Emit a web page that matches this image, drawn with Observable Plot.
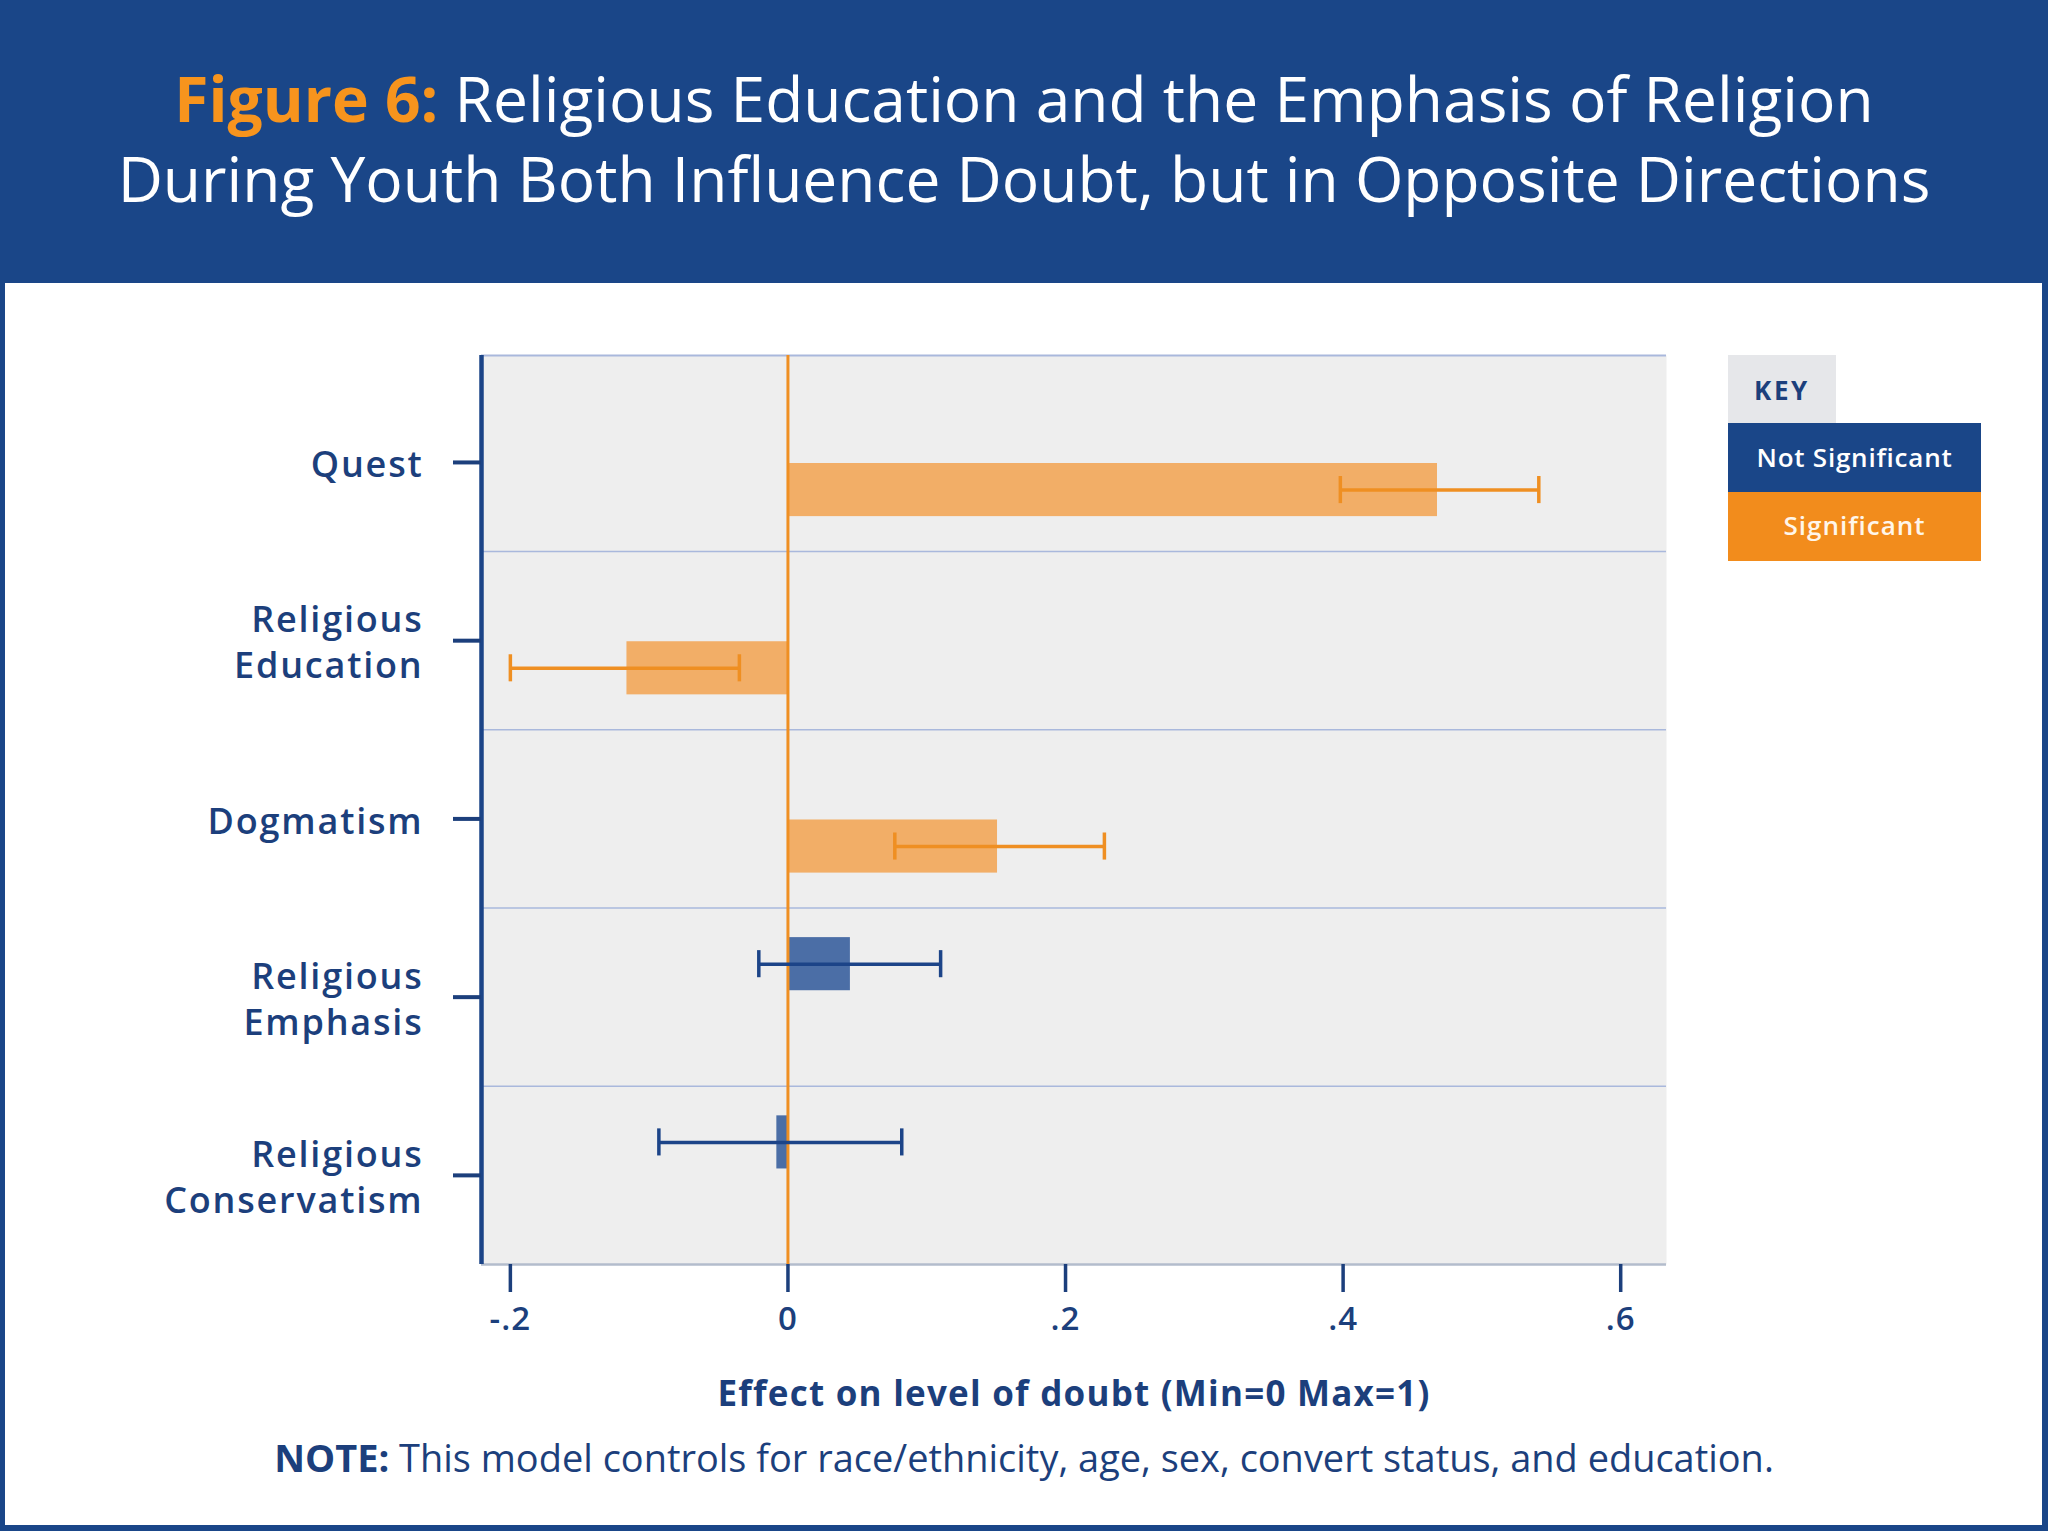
<!DOCTYPE html>
<html>
<head>
<meta charset="utf-8">
<script src="https://cdn.jsdelivr.net/npm/d3@7"></script>
<script src="https://cdn.jsdelivr.net/npm/@observablehq/plot@0.6"></script>
<style>
  html, body { margin: 0; padding: 0; background: #ffffff; }
  #page { position: relative; width: 2048px; height: 1531px; overflow: hidden; background: #ffffff; font-family: "Open Sans", sans-serif; }
  #banner { position: absolute; left: 0; top: 0; width: 2048px; height: 283px; background: #1a4688; }
  #frame { position: absolute; left: 0; top: 0; width: 2048px; height: 1531px; box-sizing: border-box; border: 6px solid #1a4688; border-left-width: 5px; pointer-events: none; }
  #plot { position: absolute; left: 0; top: 283px; }
  #overlay { position: absolute; left: 0; top: 0; pointer-events: none; }
  #plot svg g[aria-label="y-axis tick label"] text { font-weight: 600; letter-spacing: 1.8px; }
  #plot svg g[aria-label="x-axis tick label"] text { font-weight: 600; letter-spacing: 1px; }
</style>
</head>
<body>
<div id="page">
  <div id="banner"></div>
  <div id="plot"></div>
  <div id="frame"></div>
</div>
<script>
// ---------------- data ----------------
const categories = ["Quest", "Religious\nEducation", "Dogmatism", "Religious\nEmphasis", "Religious\nConservatism"];
const coef = [0.468, -0.116, 0.151, 0.045, -0.008];
const ciLow = [0.398, -0.200, 0.077, -0.021, -0.093];
const ciHigh = [0.541, -0.035, 0.228, 0.110, 0.082];
const significant = [true, true, true, false, false];
const xTicks = [-0.2, 0, 0.2, 0.4, 0.6];
const xTickLabels = ["-.2", "0", ".2", ".4", ".6"];
const xTitle = "Effect on level of doubt (Min=0 Max=1)";
const titleLead = "Figure 6:";
const titleLine1 = " Religious Education and the Emphasis of Religion";
const titleLine2 = "During Youth Both Influence Doubt, but in Opposite Directions";
const noteLead = "NOTE:";
const noteText = " This model controls for race/ethnicity, age, sex, convert status, and education.";
const keyTitle = "KEY";
const keyLabels = ["Not Significant", "Significant"];

// ---------------- layout / style ----------------
const NAVY = "#1c3f7c";
const ORANGE_BAR = "#f2ae67";
const ORANGE_LINE = "#ef8f22";
const BLUE_BAR = "#4b6ea6";
const BLUE_LINE = "#1c4488";
const barShift = [0.155, 0.155, 0.155, -0.185, -0.185];
const halfBar = 0.149;
const capHalf = 0.076;

const rows = categories.map((label, i) => ({
  pos: i + 1, label, coef: coef[i], lo: ciLow[i], hi: ciHigh[i], sig: significant[i],
  mid: i + 1 + barShift[i]
}));
const sigRows = rows.filter(d => d.sig);
const nsRows = rows.filter(d => !d.sig);

const xDomain = [-0.2208, 0.633];
const yDomain = [5.5, 0.4];

const chart = Plot.plot({
  width: 1700,
  height: 1160,
  marginLeft: 481,
  marginRight: 34,
  marginTop: 72,
  marginBottom: 179,
  style: { fontFamily: "'Open Sans', sans-serif", color: NAVY, background: "transparent", overflow: "visible" },
  x: { domain: xDomain },
  y: { domain: yDomain },
  marks: [
    Plot.frame({ fill: "#eeeeee", stroke: "none" }),
    Plot.ruleY(d3.range(1.5, 5, 1), { stroke: "#a9b8dc", strokeWidth: 1.6 }),
    Plot.ruleY([yDomain[1]], { stroke: "#a9b8dc", strokeWidth: 2 }),
    Plot.ruleY([yDomain[0]], { stroke: "#b3bccc", strokeWidth: 2.5 }),
    Plot.rect(sigRows, { x1: d => 0, x2: "coef", y1: d => d.mid - halfBar, y2: d => d.mid + halfBar, fill: ORANGE_BAR }),
    Plot.rect(nsRows, { x1: d => 0, x2: "coef", y1: d => d.mid - halfBar, y2: d => d.mid + halfBar, fill: BLUE_BAR }),
    Plot.ruleX([0], { stroke: ORANGE_LINE, strokeWidth: 3 }),
    // confidence intervals
    Plot.ruleY(sigRows, { y: "mid", x1: "lo", x2: "hi", stroke: ORANGE_LINE, strokeWidth: 3.5 }),
    Plot.ruleX(sigRows, { x: "lo", y1: d => d.mid - capHalf, y2: d => d.mid + capHalf, stroke: ORANGE_LINE, strokeWidth: 3.5 }),
    Plot.ruleX(sigRows, { x: "hi", y1: d => d.mid - capHalf, y2: d => d.mid + capHalf, stroke: ORANGE_LINE, strokeWidth: 3.5 }),
    Plot.ruleY(nsRows, { y: "mid", x1: "lo", x2: "hi", stroke: BLUE_LINE, strokeWidth: 3.5 }),
    Plot.ruleX(nsRows, { x: "lo", y1: d => d.mid - capHalf, y2: d => d.mid + capHalf, stroke: BLUE_LINE, strokeWidth: 3.5 }),
    Plot.ruleX(nsRows, { x: "hi", y1: d => d.mid - capHalf, y2: d => d.mid + capHalf, stroke: BLUE_LINE, strokeWidth: 3.5 }),
    // left axis line
    Plot.ruleX([xDomain[0]], { stroke: "#1b4487", strokeWidth: 4.5 }),
    Plot.axisY({
      ticks: d3.range(1, categories.length + 1),
      tickFormat: d => categories[d - 1],
      tickSize: 28, tickPadding: 30, strokeWidth: 4,
      fontSize: 36, fontWeight: 600, lineHeight: 1.28, label: null
    }),
    Plot.axisX({
      ticks: xTicks,
      tickFormat: d => xTickLabels[xTicks.indexOf(d)],
      tickSize: 28, tickPadding: 14, strokeWidth: 3.5,
      fontSize: 33, fontWeight: 600, label: null
    }),
    Plot.text([xTitle], { frameAnchor: "bottom", dy: 141, lineAnchor: "bottom", fontSize: 35, fontWeight: 700, fill: NAVY })
  ]
});
document.getElementById("plot").appendChild(chart);

// stretch the x-axis title to the reference width with letter spacing
function spaceToWidth(node, target) {
  const w = node.getComputedTextLength();
  const n = node.textContent.length;
  d3.select(node).attr("letter-spacing", ((target - w) / n).toFixed(2));
}
d3.select(chart).selectAll("text").filter(function () { return this.textContent === xTitle; })
  .each(function () { spaceToWidth(this, 713); });

// ---------------- overlay: title, note, key ----------------
const svg = d3.select("#page").append("svg")
  .attr("id", "overlay").attr("width", 2048).attr("height", 1531)
  .style("font-family", "'Open Sans', sans-serif");

function fitText(sel, target) {
  const w = sel.node().getComputedTextLength();
  const fs = parseFloat(sel.attr("font-size"));
  sel.attr("font-size", fs * target / w);
  return fs * target / w;
}

const t2 = svg.append("text").attr("x", 1024).attr("y", 202).attr("text-anchor", "middle")
  .attr("font-size", 56).attr("font-weight", 500).attr("fill", "#ffffff").text(titleLine2);
const titleSize = fitText(t2, 1813);
const t1 = svg.append("text").attr("x", 1024).attr("y", 122).attr("text-anchor", "middle")
  .attr("font-size", titleSize).attr("fill", "#ffffff");
t1.append("tspan").attr("fill", "#f7941d").attr("font-weight", 700).text(titleLead);
t1.append("tspan").attr("font-weight", 500).text(titleLine1);

const note = svg.append("text").attr("x", 1024).attr("y", 1472).attr("text-anchor", "middle")
  .attr("font-size", 33).attr("fill", NAVY);
note.append("tspan").attr("font-weight", 700).text(noteLead);
note.append("tspan").attr("font-weight", 400).text(noteText);
fitText(note, 1500);

// key
const key = svg.append("g");
key.append("rect").attr("x", 1728).attr("y", 355).attr("width", 108).attr("height", 68).attr("fill", "#e6e7ea");
const keyT = key.append("text").attr("x", 1782).attr("y", 400).attr("text-anchor", "middle").attr("font-size", 26)
  .attr("font-weight", 700).attr("fill", NAVY).text(keyTitle);
spaceToWidth(keyT.node(), 56);
const keyFill = ["#1a4688", "#f28c1c"];
const keyText = ["#ffffff", "#fff6ea"];
const keyWidths = [196, 142];
keyLabels.forEach((lab, i) => {
  key.append("rect").attr("x", 1728).attr("y", 423 + i * 69).attr("width", 253).attr("height", 69).attr("fill", keyFill[i]);
  const t = key.append("text").attr("x", 1854.5).attr("y", 467 + i * 68).attr("text-anchor", "middle").attr("font-size", 26)
    .attr("font-weight", 600).attr("fill", keyText[i]).text(lab);
  spaceToWidth(t.node(), keyWidths[i]);
});
</script>
</body>
</html>
